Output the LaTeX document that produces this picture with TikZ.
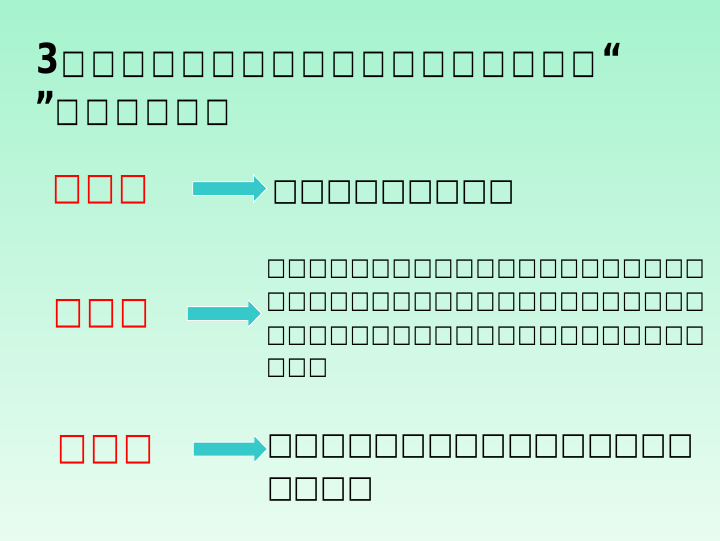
\documentclass[tikz,border=0pt]{standalone}
\usepackage{fontspec}
\setmainfont{DejaVu Sans}
\usetikzlibrary{positioning}
\usetikzlibrary{shapes.arrows}

\definecolor{bgtop}{RGB}{166,243,206}
\definecolor{bgbottom}{RGB}{232,252,240}
\definecolor{arrowcyan}{RGB}{54,201,201}
\definecolor{labelred}{RGB}{255,0,0}

% one missing-glyph box per character: count, pitch, width factor
\newcommand\tofu[3]{\foreach \k in {1,...,#1}{\makebox[#2][l]{\scalebox{#3}[1]{□}}}}
\newcommand\headbf{\bfseries\fontsize{31pt}{31pt}\selectfont}

\tikzset{every picture/.style={x=0.75pt,y=-0.75pt}}
\tikzset{
  txt/.style={inner sep=0pt,anchor=base west},
  headline/.style={txt,font=\fontsize{25pt}{25pt}\selectfont},
  keyword/.style={txt,text=labelred,font=\fontsize{28pt}{28pt}\selectfont},
  answer/.style={txt,font=\fontsize{23pt}{23pt}\selectfont},
  answersmall/.style={txt,font=\fontsize{18.2pt}{18.2pt}\selectfont},
  goarrow/.style={single arrow,fill=arrowcyan,draw=white,line width=0.6pt,
    minimum height=55.5pt,inner xsep=0pt,inner ysep=4.875pt,
    single arrow head extend=5.25pt,single arrow tip angle=92,
    shape border rotate=0}
}

\begin{document}
\begin{tikzpicture}
  \shade[top color=bgtop,bottom color=bgbottom] (0,0) rectangle (720,540);

  % title
  \node[headline] (title1) at (36,73)
    {{\headbf\scalebox{0.8}[1]{3}}\hspace{2pt}\tofu{18}{22.5pt}{0.78}{\headbf\scalebox{0.8}[1]{“}}};
  \node[headline] (title2) at (34,121) {{\headbf\scalebox{0.8}[1]{”}}\tofu{6}{22.5pt}{0.78}};

  % row 1
  \node[keyword] (kw1) at (52,199) {\tofu{3}{24.75pt}{0.85}};
  \node[goarrow] (ar1) at (226.5,188.5) {};
  \node[answer] (ans1) at (272,200) {\tofu{9}{20.25pt}{0.91}};

  % row 2
  \node[keyword] (kw2) at (53,323) {\tofu{3}{24.75pt}{0.85}};
  \node[goarrow] (ar2) at (221,313.5) {};
  \foreach \n/\y [count=\i] in {21/275,21/308,21/342,3/374}
    \node[answersmall] (ans2\i) at (266,\y) {\tofu{\n}{15.7pt}{0.86}};

  % row 3
  \node[keyword] (kw3) at (57,459) {\tofu{3}{24.75pt}{0.85}};
  \node[goarrow] (ar3) at (227,449) {};
  \node[answer] (ans31) at (267,454) {\tofu{16}{20pt}{0.91}};
  \node[answer] (ans32) at (267,497) {\tofu{4}{20pt}{0.91}};
\end{tikzpicture}
\end{document}
